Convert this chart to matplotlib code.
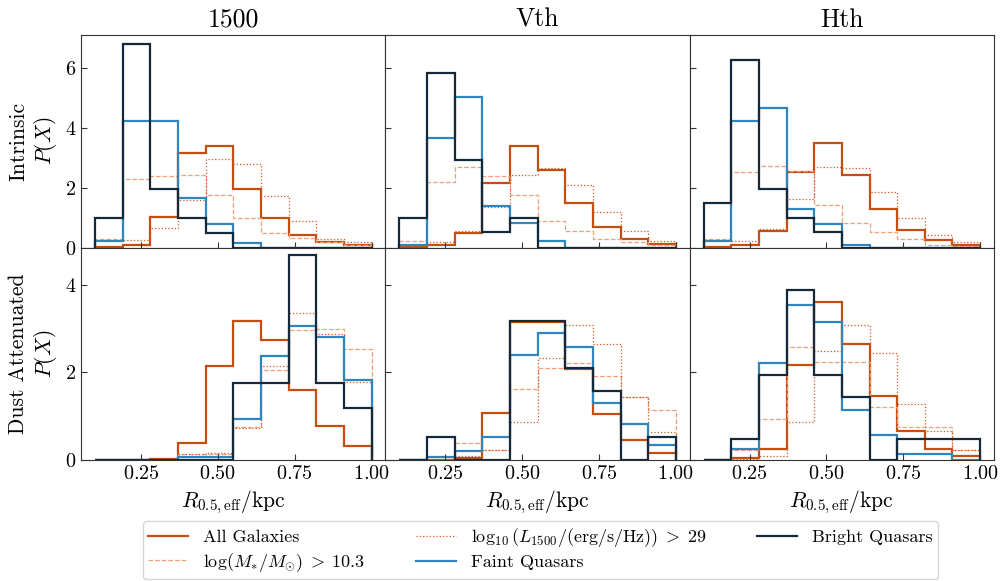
import numpy as np
import matplotlib
matplotlib.use("Agg")
import matplotlib.pyplot as plt
from matplotlib.lines import Line2D

plt.rcParams['font.family'] = 'serif'
plt.rcParams['font.serif'] = ['cmr10', 'DejaVu Serif']
plt.rcParams['mathtext.fontset'] = 'cm'
plt.rcParams['axes.formatter.use_mathtext'] = True
plt.rcParams['axes.unicode_minus'] = False

# bin edges of R_0.5,eff / kpc
edges = np.linspace(0.1, 1.0, 11)

columns = ['1500', 'Vth', 'Hth']
rows = ['Intrinsic\n$P(X)$', 'Dust Attenuated\n$P(X)$']

labels = ['All Galaxies', r'$\log(M_{*}/M_{\odot})\;>\;10.3$',
          r'$\log_{10}(L_{1500}/(\mathrm{erg/s/Hz}))\;>\;29$',
          'Faint Quasars', 'Bright Quasars']

# intrinsic densities, one list per column
all_int = [
    [0.02, 0.08, 1.02, 3.17, 3.39, 1.96, 0.97, 0.41, 0.19, 0.09],
    [0.02, 0.08, 0.47, 2.15, 3.39, 2.59, 1.49, 0.69, 0.28, 0.12],
    [0.02, 0.08, 0.55, 2.53, 3.50, 2.42, 1.30, 0.57, 0.24, 0.10],
]
mass_int = [
    [0.30, 2.28, 2.40, 2.42, 1.74, 0.99, 0.50, 0.33, 0.17, 0.10],
    [0.21, 2.18, 2.68, 2.40, 1.76, 0.89, 0.54, 0.30, 0.17, 0.10],
    [0.28, 2.51, 2.71, 2.55, 1.43, 0.83, 0.52, 0.30, 0.10, 0.05],
]
lum_int = [
    [0.25, 0.25, 0.66, 1.58, 2.95, 2.78, 1.73, 0.89, 0.30, 0.17],
    [0.05, 0.19, 0.55, 1.34, 2.42, 2.67, 2.09, 1.18, 0.54, 0.22],
    [0.25, 0.22, 0.63, 1.63, 2.68, 2.67, 1.84, 0.99, 0.41, 0.17],
]
faint_int = [
    [0.21, 4.22, 4.22, 1.65, 0.77, 0.15, 0.0, 0.0, 0.0, 0.0],
    [0.08, 3.66, 5.04, 1.40, 0.83, 0.21, 0.0, 0.0, 0.0, 0.0],
    [0.23, 4.23, 4.65, 1.27, 0.77, 0.10, 0.0, 0.0, 0.0, 0.0],
]
bright_int = [
    [0.98, 6.78, 1.95, 0.98, 0.50, 0.0, 0.0, 0.0, 0.0, 0.0],
    [0.98, 5.81, 2.92, 0.52, 0.97, 0.0, 0.0, 0.0, 0.0, 0.0],
    [1.47, 6.27, 1.94, 0.98, 0.52, 0.0, 0.0, 0.0, 0.0, 0.0],
]

# dust attenuated densities
all_dust = [
    [0.0, 0.0, 0.02, 0.38, 2.15, 3.17, 2.75, 1.61, 0.77, 0.32],
    [0.0, 0.0, 0.04, 1.07, 3.15, 3.15, 2.08, 1.06, 0.45, 0.17],
    [0.0, 0.04, 0.26, 2.17, 3.60, 2.64, 1.47, 0.66, 0.26, 0.10],
]
mass_dust = [
    [0.0, 0.0, 0.02, 0.13, 0.15, 0.75, 2.05, 2.96, 2.98, 2.53],
    [0.0, 0.0, 0.38, 0.24, 1.62, 2.10, 2.21, 1.91, 1.43, 1.15],
    [0.0, 0.23, 0.94, 2.57, 2.23, 2.23, 1.21, 0.75, 0.75, 0.23],
]
lum_dust = [
    [0.0, 0.0, 0.05, 0.13, 0.17, 0.73, 2.15, 3.36, 2.87, 1.79],
    [0.0, 0.0, 0.10, 0.23, 0.87, 2.32, 3.08, 2.64, 1.43, 0.64],
    [0.0, 0.02, 0.10, 0.87, 2.49, 3.08, 2.45, 1.28, 0.66, 0.23],
]
faint_dust = [
    [0.0, 0.0, 0.0, 0.08, 0.08, 0.93, 2.38, 3.07, 2.81, 1.83],
    [0.0, 0.08, 0.20, 0.52, 2.40, 2.91, 2.59, 1.30, 0.83, 0.34],
    [0.0, 0.26, 2.21, 3.53, 3.15, 1.15, 0.58, 0.13, 0.13, 0.0],
]
bright_dust = [
    [0.0, 0.0, 0.0, 0.0, 0.0, 1.77, 1.77, 4.68, 1.77, 1.18],
    [0.0, 0.53, 0.0, 0.0, 3.17, 3.17, 2.11, 1.58, 0.0, 0.53],
    [0.0, 0.49, 1.94, 3.87, 1.94, 1.45, 0.0, 0.49, 0.49, 0.49],
]

c_all = '#c44e0f'
c_mass = '#f0a07a'
c_lum = '#cc5a22'
c_faint = '#2f86bd'
c_bright = '#15293a'

styles = [
    dict(color=c_all, lw=1.6, ls='-'),
    dict(color=c_mass, lw=0.9, ls='--'),
    dict(color=c_lum, lw=0.9, ls=':'),
    dict(color=c_faint, lw=1.6, ls='-'),
    dict(color=c_bright, lw=1.6, ls='-'),
]

data = [
    [all_int, mass_int, lum_int, faint_int, bright_int],
    [all_dust, mass_dust, lum_dust, faint_dust, bright_dust],
]

fig, axes = plt.subplots(2, 3, figsize=(10.01, 5.81), dpi=100,
                         sharex=True, sharey='row')
fig.subplots_adjust(left=0.081, right=0.993, top=0.94, bottom=0.208,
                    wspace=0, hspace=0)

for r in range(2):
    for c in range(3):
        ax = axes[r, c]
        for k in range(5):
            ax.stairs(data[r][k][c], edges, label=labels[k], **styles[k])
        ax.tick_params(direction='in', top=False, right=False, labelsize=14.5,
                       length=4.3, width=0.8, color='#333333')
        for s in ax.spines.values():
            s.set_color('#333333')
        if r == 1:
            ax.set_xlabel(r'$R_{0.5,\mathrm{eff}}/\mathrm{kpc}$', fontsize=15.5)
    axes[r, 0].set_ylabel(rows[r], fontsize=15.5)

for c in range(3):
    axes[0, c].set_title(columns[c], fontsize=18.5)

axes[0, 0].set_xticks([0.25, 0.5, 0.75, 1.0])
axes[0, 0].set_xlim(0.055, 1.045)
axes[0, 0].set_yticks([0, 2, 4, 6])
axes[0, 0].set_ylim(0, 7.1)
axes[1, 0].set_yticks([0, 2, 4])
axes[1, 0].set_ylim(0, 4.85)

leg_handles = [Line2D([], [], **st) for st in styles]
fig.legend(leg_handles, labels, loc='lower center', ncol=3,
           bbox_to_anchor=(0.54, 0.0), fontsize=13, frameon=True,
           handlelength=2.2, handletextpad=0.85, columnspacing=2.8,
           labelspacing=0.3, borderpad=0.3,
           borderaxespad=0.1, edgecolor='#cccccc')

fig.savefig('out.png', dpi=100)
